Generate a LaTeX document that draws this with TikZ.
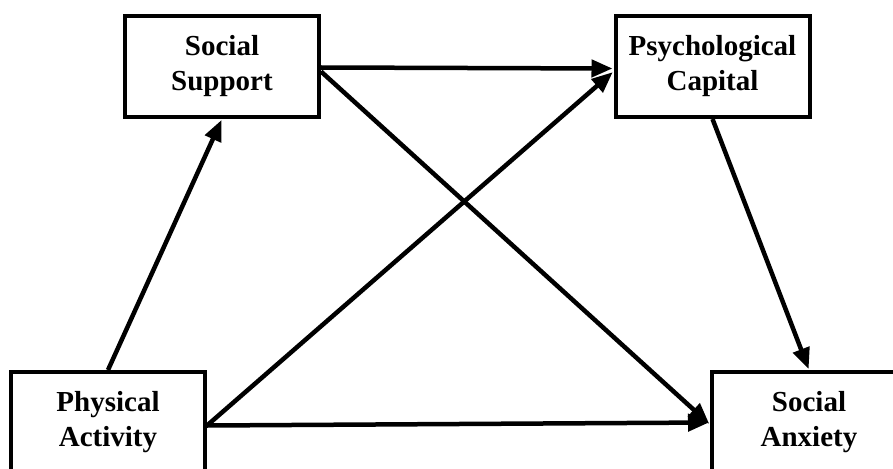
\documentclass[tikz,border=0pt]{standalone}
\usepackage{fontspec}
\setmainfont{Liberation Serif}
\usepackage{tikz}
\usetikzlibrary{arrows.meta}
\tikzset{
	varbox/.style={rectangle, draw=black, line width=4pt, minimum width=194pt, minimum height=101pt, align=center, font=\bfseries\fontsize{29}{35}\selectfont, inner sep=0pt}
}
\tikzset{
	patharrow/.style={line width=4.5pt, -{Triangle[length=21pt,width=17pt]}, shorten >=1pt}
}
\begin{document}
\begin{tikzpicture}[x=1pt,y=-1pt]
			\clip (0,0) rectangle (893,468);
			\fill[white] (0,0) rectangle (893,468);
			\draw (222,66.5) node[varbox] (support) {Social\\Support};
			\draw (712.5,66.5) node[varbox] (capital) {Psychological\\Capital};
			\draw (108,422.5) node[varbox] (activity) {Physical\\Activity};
			\draw (809,422.5) node[varbox] (anxiety) {Social\\Anxiety};
			\draw [patharrow] (activity.north)-- (support.south);
			\draw [patharrow] ([yshift=-1pt]support.east)-- ([yshift=-2pt]capital.west);
			\draw [patharrow] ([yshift=-5pt]support.east)-- ([yshift=-2pt]anxiety.west);
			\draw [patharrow] ([yshift=-3pt]activity.east)-- ([yshift=-5pt]capital.west);
			\draw [patharrow] ([yshift=-3pt]activity.east)-- (anxiety.west);
			\draw [patharrow] (capital.south)-- (anxiety.north);
		\end{tikzpicture}
\end{document}
